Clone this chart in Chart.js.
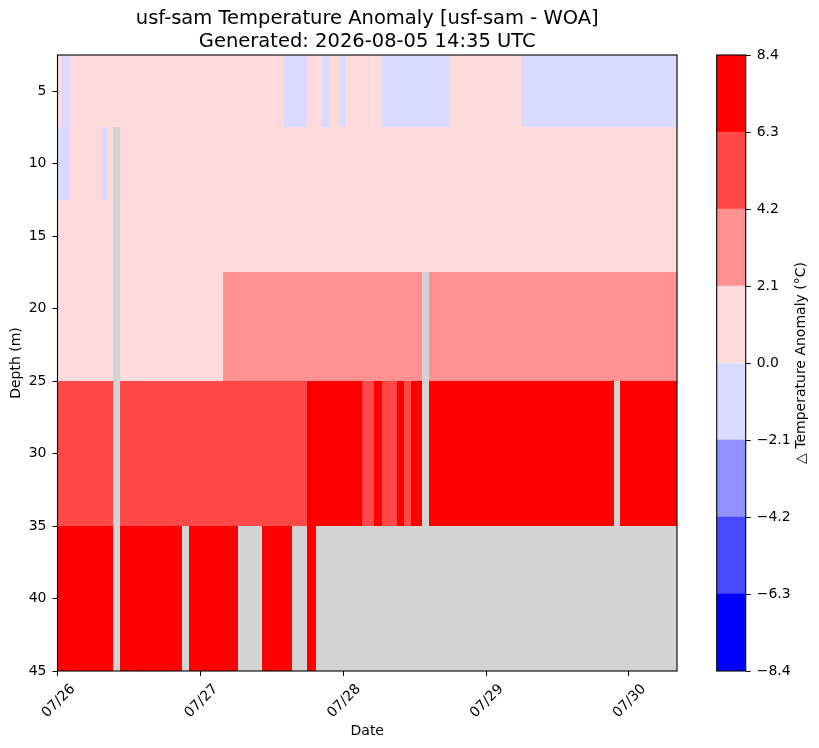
<!DOCTYPE html>
<html>
<head>
<meta charset="utf-8">
<script src="https://cdn.jsdelivr.net/npm/chart.js@4/dist/chart.umd.min.js"></script>
<style>
  body { margin: 0; background: #fff; }
  #wrap { position: relative; width: 819px; height: 748px; }
  #main { position: absolute; left: 0; top: 0; }
  #cbar { position: absolute; left: 690px; top: 0; }
</style>
</head>
<body>
<div id="wrap">
  <canvas id="main" width="819" height="748"></canvas>
  <canvas id="cbar" width="129" height="748"></canvas>
</div>
<script>
// hours since 07/26 00:00 UTC, edges of each profile column
const timeEdges = [-0.08, 0.67, 1.85, 7.23, 8.24, 9.25, 10.43, 20.86, 22.03, 27.75, 30.27,
  34.31, 38.01, 39.36, 41.88, 43.39, 44.40, 45.75, 47.26, 48.27, 51.13, 53.15, 54.49,
  57.02, 58.19, 59.37, 61.22, 62.40, 65.93, 77.87, 93.51, 94.52, 104.10];

// depth bins (m)
const depthEdges = [2.5, 7.5, 12.5, 17.5, 25, 35, 45];

// anomaly (degC) per column, one array per depth bin, null = no data
const anom5 = [0.8, -0.3, 1.1, 1.0, 0.9, 0.7, 1.2, 1.4, 1.3, 1.5, 1.1, 0.6, -0.4, -0.5, 0.3, 0.4,
  -0.2, 0.2, -0.1, 0.5, 0.6, 0.3, -0.6, -0.8, -0.7, -0.9, -0.6, -0.5, 0.4, -0.7, -0.9, -0.8];
const anom10 = [-0.4, -0.5, 0.6, -0.2, 0.5, null, 1.0, 1.2, 1.1, 1.3, 1.2, 0.9, 0.7, 0.6, 0.8, 0.9,
  0.7, 0.8, 0.6, 0.9, 1.0, 0.8, 0.5, 0.6, 0.7, 0.5, 0.6, 0.7, 0.9, 0.6, 0.5, 0.7];
const anom15 = [1.1, 1.3, 1.4, 1.2, 1.5, null, 1.6, 1.8, 1.7, 1.9, 1.8, 1.7, 1.6, 1.5, 1.7, 1.8,
  1.6, 1.7, 1.5, 1.8, 1.9, 1.7, 1.4, 1.5, 1.6, 1.4, 1.5, 1.6, 1.8, 1.5, 1.4, 1.6];
const anom20 = [1.6, 1.8, 1.9, 1.7, 2.0, null, 1.9, 2.0, 2.0, 2.6, 2.9, 3.1, 3.3, 3.2, 3.6, 3.8,
  3.5, 3.7, 3.4, 3.9, 3.6, 3.8, 3.3, 3.5, 3.4, 3.7, null, 3.2, 3.4, 3.1, 2.9, 3.0];
const anom30 = [5.3, 5.6, 5.5, 5.4, 5.7, null, 5.8, 5.9, 6.0, 6.1, 5.9, 6.0, 6.1, 6.2, 6.6, 6.9,
  7.1, 7.0, 6.8, 6.7, 6.1, 6.5, 6.0, 6.6, 6.2, 6.8, null, 7.2, 7.4, 7.6, null, 7.3];
const anom40 = [7.5, 7.8, 7.6, 7.4, 7.7, null, 7.9, null, 7.6, 7.4, null, 7.2, 7.3, null, 7.1, null,
  null, null, null, null, null, null, null, null, null, null, null, null, null, null, null, null];
const anomRows = [anom5, anom10, anom15, anom20, anom30, anom40];

// x ticks
const tickHours = [0, 24, 48, 72, 96];
const tickLabels = ['07/26', '07/27', '07/28', '07/29', '07/30'];

// colour levels (discrete bwr)
const levels = [-8.4, -6.3, -4.2, -2.1, 0.0, 2.1, 4.2, 6.3, 8.4];
const levelColors = ['rgb(0,0,255)', 'rgb(73,73,255)', 'rgb(145,145,255)', 'rgb(218,218,255)',
  'rgb(255,218,218)', 'rgb(255,145,145)', 'rgb(255,73,73)', 'rgb(255,0,0)'];
const nanColor = '#d3d3d3';

Chart.defaults.font.family = 'DejaVu Sans';
Chart.defaults.font.size = 14;
Chart.defaults.color = '#000';

function colorFor(v) {
  for (let i = 0; i < levelColors.length; i++) {
    if (v < levels[i + 1]) return levelColors[i];
  }
  return levelColors[levelColors.length - 1];
}

// draws the depth/time cells with the chart's own scales
const meshPlugin = {
  id: 'mesh',
  beforeDatasetsDraw(chart) {
    const {ctx, chartArea, scales: {x, y}} = chart;
    ctx.save();
    ctx.fillStyle = nanColor;
    ctx.fillRect(chartArea.left, chartArea.top, chartArea.width, chartArea.height);
    for (let r = 0; r < anomRows.length; r++) {
      const y0 = y.getPixelForValue(depthEdges[r]);
      const y1 = y.getPixelForValue(depthEdges[r + 1]);
      for (let c = 0; c < anomRows[r].length; c++) {
        const v = anomRows[r][c];
        if (v === null) continue;
        const x0 = x.getPixelForValue(timeEdges[c]);
        const x1 = x.getPixelForValue(timeEdges[c + 1]);
        ctx.fillStyle = colorFor(v);
        ctx.fillRect(Math.round(x0), Math.round(y0), Math.round(x1) - Math.round(x0), Math.round(y1) - Math.round(y0));
      }
    }
    ctx.restore();
  },
  afterDraw(chart) {
    const {ctx, chartArea} = chart;
    ctx.save();
    ctx.strokeStyle = '#000';
    ctx.lineWidth = 1.1;
    ctx.strokeRect(chartArea.left, chartArea.top, chartArea.width, chartArea.height);
    ctx.restore();
  }
};

new Chart(document.getElementById('main'), {
  type: 'scatter',
  data: { datasets: [] },
  options: {
    responsive: false,
    animation: false,
    layout: { padding: { left: 0, top: 0, right: 142, bottom: 0 } },
    plugins: {
      legend: { display: false },
      tooltip: { enabled: false },
      title: {
        display: true,
        fullSize: false,
        text: ['usf-sam Temperature Anomaly [usf-sam - WOA]', 'Generated: 2026-08-05 14:35 UTC'],
        font: { size: 19.5, weight: 'normal', lineHeight: 1.2 },
        color: '#000',
        padding: { top: 7, bottom: 1.2 }
      }
    },
    scales: {
      x: {
        type: 'linear',
        min: timeEdges[0],
        max: timeEdges[timeEdges.length - 1],
        afterBuildTicks: s => { s.ticks = tickHours.map(v => ({ value: v })); },
        afterFit: s => { s.height = 77; },
        ticks: {
          minRotation: 45, maxRotation: 45, autoSkip: false, padding: 5, labelOffset: 15,
          callback: v => tickLabels[tickHours.indexOf(v)]
        },
        grid: { drawOnChartArea: false, tickLength: 5, color: '#000' },
        border: { display: false },
        title: { display: true, text: 'Date', padding: { top: 0, bottom: 8 } }
      },
      y: {
        type: 'linear',
        reverse: true,
        min: depthEdges[0],
        max: depthEdges[depthEdges.length - 1],
        afterBuildTicks: s => { s.ticks = [5, 10, 15, 20, 25, 30, 35, 40, 45].map(v => ({ value: v })); },
        afterFit: s => { s.width = 57.5; },
        ticks: { padding: 6 },
        grid: { drawOnChartArea: false, tickLength: 5, color: '#000' },
        border: { display: false },
        title: { display: true, text: 'Depth (m)', padding: { top: 8, bottom: 0 } }
      }
    }
  },
  plugins: [meshPlugin]
});

// colour bar
const cbarPlugin = {
  id: 'cbarFrame',
  afterDraw(chart) {
    const {ctx, chartArea} = chart;
    ctx.save();
    ctx.strokeStyle = '#000';
    ctx.lineWidth = 1.1;
    ctx.strokeRect(chartArea.left, chartArea.top, chartArea.width, chartArea.height);
    ctx.translate(111, (chartArea.top + chartArea.bottom) / 2);
    ctx.rotate(-Math.PI / 2);
    ctx.fillStyle = '#000';
    ctx.font = '14px "DejaVu Sans"';
    ctx.textAlign = 'center';
    ctx.textBaseline = 'middle';
    ctx.fillText('\u25B3 Temperature Anomaly (\u00B0C)', 0, 0);
    ctx.restore();
  }
};

new Chart(document.getElementById('cbar'), {
  type: 'bar',
  data: {
    labels: [''],
    datasets: levelColors.map((c, i) => ({
      data: [[levels[i], levels[i + 1]]],
      backgroundColor: c,
      borderWidth: 0,
      barPercentage: 1,
      categoryPercentage: 1,
      grouped: false
    }))
  },
  options: {
    responsive: false,
    animation: false,
    layout: { padding: { left: 26.7, top: 55, right: 0, bottom: 77 } },
    plugins: { legend: { display: false }, tooltip: { enabled: false } },
    scales: {
      x: { display: false },
      y: {
        position: 'right',
        min: levels[0],
        max: levels[levels.length - 1],
        afterBuildTicks: s => { s.ticks = levels.map(v => ({ value: v })); },
        afterFit: s => { s.width = 73.3; },
        ticks: { padding: 6, callback: v => v.toFixed(1).replace('-', '\u2212') },
        grid: { drawOnChartArea: false, tickLength: 5, color: '#000' },
        border: { display: false }
      }
    }
  },
  plugins: [cbarPlugin]
});
</script>
</body>
</html>
